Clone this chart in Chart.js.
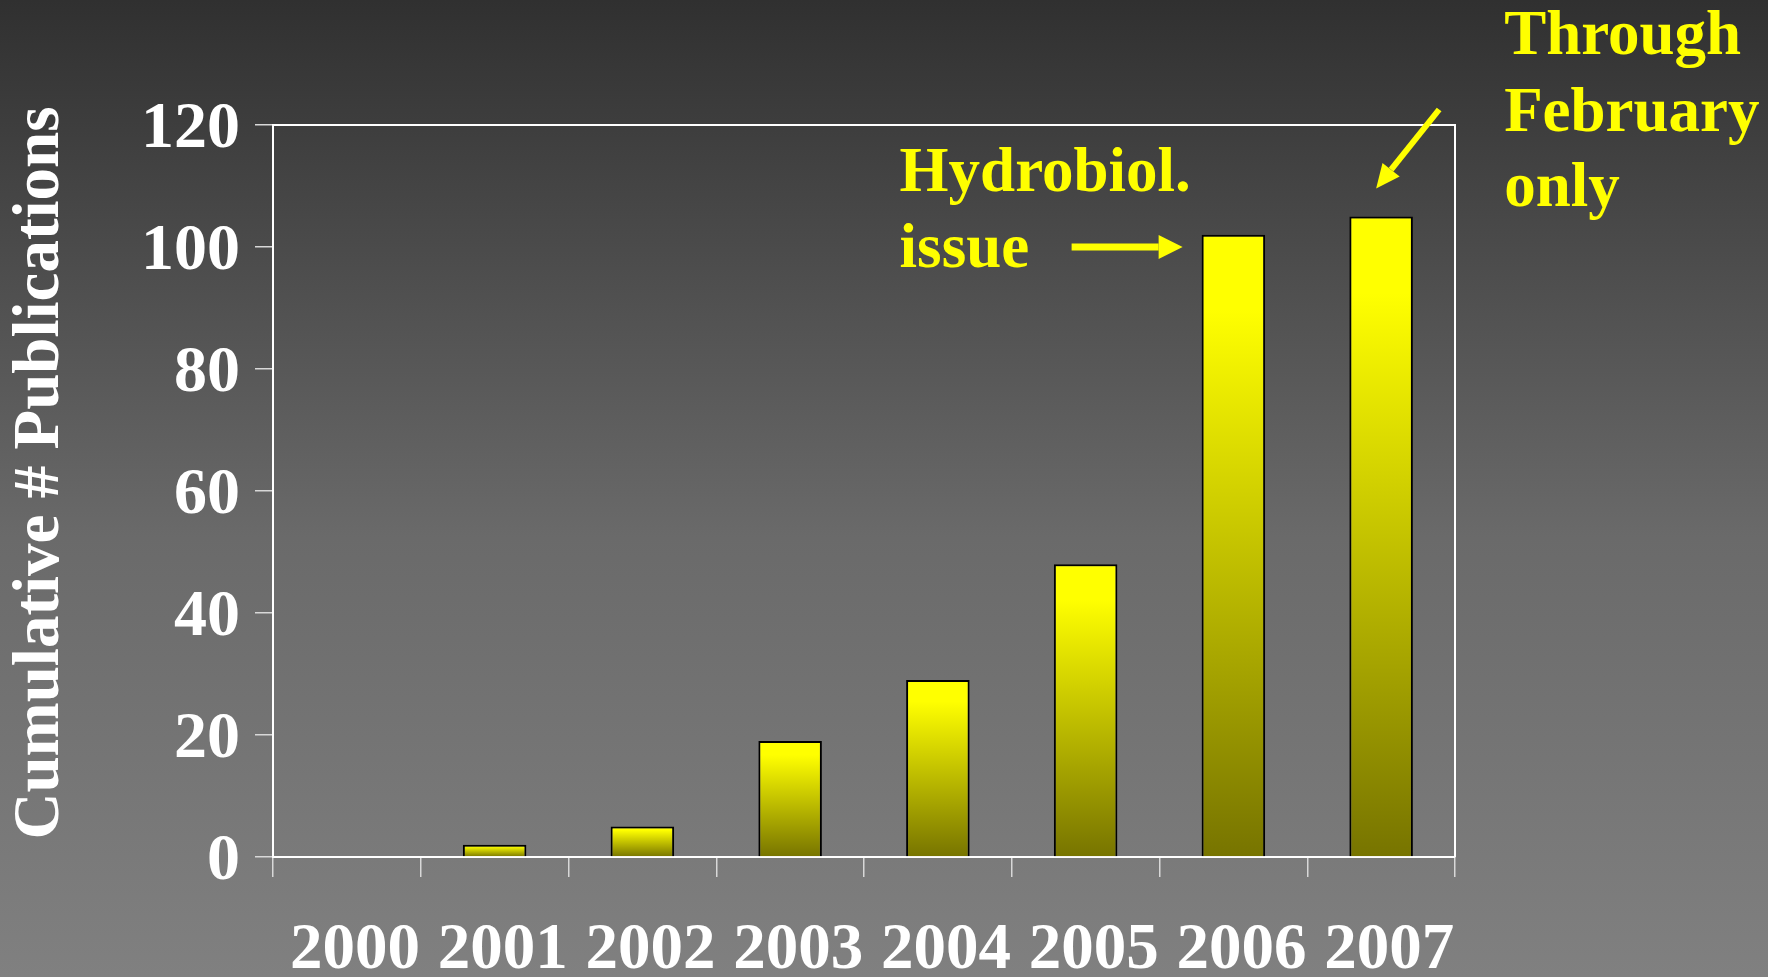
<!DOCTYPE html>
<html>
<head>
<meta charset="utf-8">
<script src="https://cdn.jsdelivr.net/npm/chart.js@4/dist/chart.umd.min.js"></script>
<style>
  html, body { margin: 0; padding: 0; }
  body {
    width: 1768px; height: 977px; overflow: hidden;
    background: linear-gradient(to bottom, #303030 0%, #6a6a6a 55%, #808080 100%);
  }
  canvas { display: block; }
</style>
</head>
<body>
<canvas id="pubChart" width="1768" height="977"></canvas>
<script>
// data
const years = ['2000', '2001', '2002', '2003', '2004', '2005', '2006', '2007'];
const cumulativePubs = [0, 2, 5, 19, 29, 48, 102, 105];
const yTicks = { min: 0, max: 120, step: 20 };

const yTitle = 'Cumulative # Publications';
const hydroNote = ['Hydrobiol.', 'issue'];
const febNote = ['Through', 'February', 'only'];

const serif = '"Liberation Serif", "Times New Roman", serif';
const yellow = '#ffff00';
const olive = '#777400';

// bars fade from yellow at the top to olive at the axis
function barGradient(c) {
  const chart = c.chart;
  const y = chart.scales.y;
  if (!y || c.type !== 'data') return yellow;
  const top = y.getPixelForValue(c.raw);
  const base = y.getPixelForValue(0);
  if (!Number.isFinite(top) || !Number.isFinite(base)) return yellow;
  if (base - top < 1) return olive;
  const g = chart.ctx.createLinearGradient(0, top, 0, base);
  g.addColorStop(0, yellow);
  g.addColorStop(0.12, yellow);
  g.addColorStop(1, olive);
  return g;
}

function arrow(ctx, x1, y1, x2, y2, w, headLen, headHalf) {
  const ang = Math.atan2(y2 - y1, x2 - x1);
  const bx = x2 - Math.cos(ang) * headLen;
  const by = y2 - Math.sin(ang) * headLen;
  ctx.lineWidth = w;
  ctx.beginPath(); ctx.moveTo(x1, y1); ctx.lineTo(bx, by); ctx.stroke();
  const nx = -Math.sin(ang) * headHalf, ny = Math.cos(ang) * headHalf;
  ctx.beginPath();
  ctx.moveTo(x2, y2);
  ctx.lineTo(bx + nx, by + ny);
  ctx.lineTo(bx - nx, by - ny);
  ctx.closePath();
  ctx.fill();
}

// frame top/right, the axis title and the yellow call-outs
const overlay = {
  id: 'overlay',
  afterDraw(chart) {
    const { ctx, chartArea: a, scales: { y } } = chart;
    const bars = chart.getDatasetMeta(0).data;
    ctx.save();
    ctx.strokeStyle = '#ffffff';
    ctx.lineWidth = 2;
    ctx.beginPath();
    ctx.moveTo(a.left, a.top);
    ctx.lineTo(a.right, a.top);
    ctx.lineTo(a.right, a.bottom);
    ctx.stroke();

    // y title, sits a little above the middle of the axis
    ctx.save();
    ctx.translate(41, (a.top + a.bottom) / 2 - 18);
    ctx.rotate(-Math.PI / 2);
    ctx.fillStyle = '#ffffff';
    ctx.font = 'bold 65px ' + serif;
    ctx.textAlign = 'center';
    ctx.textBaseline = 'middle';
    ctx.fillText(yTitle, 0, 0);
    ctx.restore();

    ctx.strokeStyle = yellow;
    ctx.fillStyle = yellow;
    ctx.font = 'bold 63px ' + serif;
    ctx.textBaseline = 'alphabetic';
    ctx.textAlign = 'left';

    // Hydrobiol. issue -> 2006
    const b6 = bars[6];
    const t1x = b6.x - b6.width / 2 - 19;
    const t1y = y.getPixelForValue(100);
    arrow(ctx, t1x - 111, t1y, t1x, t1y, 7, 24, 12);
    ctx.fillText(hydroNote[0], t1x - 283, t1y - 56);
    ctx.fillText(hydroNote[1], t1x - 283, t1y + 20);

    // Through February only -> 2007
    const b7 = bars[7];
    const t2x = b7.x - 5;
    const t2y = b7.y - 28;
    arrow(ctx, t2x + 63, t2y - 79, t2x, t2y, 6, 24, 11);
    ctx.fillText(febNote[0], t2x + 128, t2y - 135);
    ctx.fillText(febNote[1], t2x + 128, t2y - 58);
    ctx.fillText(febNote[2], t2x + 128, t2y + 17);
    ctx.restore();
  }
};

const ctx = document.getElementById('pubChart').getContext('2d');
const pubChart = new Chart(ctx, {
  type: 'bar',
  data: {
    labels: years,
    datasets: [{
      label: yTitle,
      data: cumulativePubs,
      backgroundColor: barGradient,
      borderColor: '#000000',
      borderWidth: 2,
      categoryPercentage: 1,
      barPercentage: 0.43
    }]
  },
  options: {
    responsive: false,
    animation: false,
    layout: { padding: { left: 0, top: 125, right: 313, bottom: 0 } },
    plugins: { legend: { display: false }, tooltip: { enabled: false } },
    scales: {
      x: {
        afterFit: s => { s.height = 120; },
        grid: { display: true, offset: true, drawOnChartArea: false, tickLength: 20, color: '#d8d8d8', lineWidth: 1.5 },
        border: { color: '#ffffff', width: 2 },
        ticks: { color: '#ffffff', padding: 35, labelOffset: 8, maxRotation: 0, font: { family: serif, size: 65, weight: 'bold', lineHeight: 1.2 } }
      },
      y: {
        min: yTicks.min,
        max: yTicks.max,
        afterFit: s => { s.width = 273; },
        grid: { drawOnChartArea: false, tickLength: 18, color: '#d8d8d8', lineWidth: 1.5 },
        border: { color: '#ffffff', width: 2 },
        ticks: { stepSize: yTicks.step, color: '#ffffff', padding: 15, labelOffset: 5, font: { family: serif, size: 66, weight: 'bold' } }
      }
    }
  },
  plugins: [overlay]
});
</script>
</body>
</html>
